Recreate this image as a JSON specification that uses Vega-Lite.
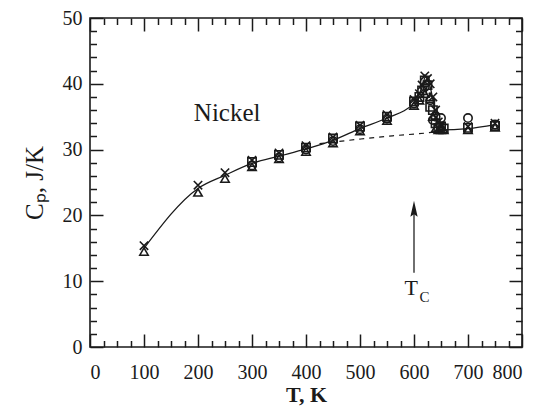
{
  "$schema": "https://vega.github.io/schema/vega-lite/v6.json",
  "autosize": "none",
  "width": 432,
  "height": 329,
  "padding": {"left": 90, "top": 18, "right": 19, "bottom": 62},
  "background": "white",
  "config": {
    "view": {"stroke": "#1a1a1a", "strokeWidth": 1.6},
    "font": "Liberation Serif",
    "axis": {"grid": false, "domain": false, "tickColor": "#1a1a1a", "tickWidth": 1.5, "labelFont": "Liberation Serif", "labelFontSize": 20, "labelColor": "#1a1a1a", "titleFont": "Liberation Serif", "titleColor": "#1a1a1a"}
  },
  "datasets": {
    "pts": [
      {"T": 100, "Cp": 14.5, "s": "triangle"}, {"T": 100, "Cp": 15.4, "s": "x"},
      {"T": 200, "Cp": 23.5, "s": "triangle"}, {"T": 200, "Cp": 24.6, "s": "x"},
      {"T": 250, "Cp": 25.6, "s": "triangle"}, {"T": 250, "Cp": 26.5, "s": "x"},
      {"T": 300, "Cp": 27.4, "s": "triangle"}, {"T": 300, "Cp": 28.4, "s": "x"}, {"T": 300, "Cp": 27.6, "s": "circle"}, {"T": 300, "Cp": 28.1, "s": "square"},
      {"T": 350, "Cp": 28.6, "s": "triangle"}, {"T": 350, "Cp": 29.5, "s": "x"}, {"T": 350, "Cp": 28.8, "s": "circle"}, {"T": 350, "Cp": 29.2, "s": "square"},
      {"T": 400, "Cp": 29.7, "s": "triangle"}, {"T": 400, "Cp": 30.6, "s": "x"}, {"T": 400, "Cp": 30.0, "s": "circle"}, {"T": 400, "Cp": 30.3, "s": "square"},
      {"T": 450, "Cp": 31.0, "s": "triangle"}, {"T": 450, "Cp": 31.9, "s": "x"}, {"T": 450, "Cp": 31.3, "s": "circle"}, {"T": 450, "Cp": 31.7, "s": "square"},
      {"T": 500, "Cp": 32.8, "s": "triangle"}, {"T": 500, "Cp": 33.7, "s": "x"}, {"T": 500, "Cp": 33.1, "s": "circle"}, {"T": 500, "Cp": 33.5, "s": "square"},
      {"T": 550, "Cp": 34.4, "s": "triangle"}, {"T": 550, "Cp": 35.3, "s": "x"}, {"T": 550, "Cp": 34.7, "s": "circle"}, {"T": 550, "Cp": 35.0, "s": "square"},
      {"T": 600, "Cp": 36.7, "s": "triangle"}, {"T": 600, "Cp": 37.6, "s": "x"}, {"T": 600, "Cp": 37.0, "s": "circle"}, {"T": 600, "Cp": 37.3, "s": "square"},
      {"T": 610, "Cp": 37.5, "s": "triangle"}, {"T": 610, "Cp": 38.5, "s": "x"}, {"T": 610, "Cp": 38.0, "s": "square"},
      {"T": 615, "Cp": 39.8, "s": "x"}, {"T": 615, "Cp": 39.0, "s": "square"},
      {"T": 620, "Cp": 38.5, "s": "triangle"}, {"T": 620, "Cp": 41.2, "s": "x"}, {"T": 620, "Cp": 39.5, "s": "circle"}, {"T": 620, "Cp": 40.5, "s": "square"},
      {"T": 625, "Cp": 40.8, "s": "x"}, {"T": 625, "Cp": 39.8, "s": "square"},
      {"T": 630, "Cp": 38.0, "s": "triangle"}, {"T": 630, "Cp": 40.0, "s": "x"}, {"T": 630, "Cp": 37.5, "s": "circle"}, {"T": 630, "Cp": 36.5, "s": "square"},
      {"T": 635, "Cp": 35.0, "s": "triangle"}, {"T": 635, "Cp": 38.0, "s": "x"}, {"T": 635, "Cp": 34.5, "s": "circle"}, {"T": 635, "Cp": 36.0, "s": "square"},
      {"T": 640, "Cp": 33.2, "s": "triangle"}, {"T": 640, "Cp": 36.0, "s": "x"}, {"T": 640, "Cp": 35.0, "s": "circle"}, {"T": 640, "Cp": 34.0, "s": "square"},
      {"T": 645, "Cp": 33.0, "s": "triangle"}, {"T": 645, "Cp": 34.2, "s": "x"}, {"T": 645, "Cp": 33.3, "s": "square"},
      {"T": 650, "Cp": 33.0, "s": "triangle"}, {"T": 650, "Cp": 33.6, "s": "x"}, {"T": 650, "Cp": 34.8, "s": "circle"}, {"T": 650, "Cp": 33.5, "s": "square"},
      {"T": 655, "Cp": 33.0, "s": "triangle"}, {"T": 655, "Cp": 33.2, "s": "square"},
      {"T": 700, "Cp": 33.0, "s": "triangle"}, {"T": 700, "Cp": 33.5, "s": "x"}, {"T": 700, "Cp": 34.8, "s": "circle"}, {"T": 700, "Cp": 33.3, "s": "square"},
      {"T": 750, "Cp": 33.4, "s": "triangle"}, {"T": 750, "Cp": 34.0, "s": "x"}, {"T": 750, "Cp": 33.8, "s": "circle"}, {"T": 750, "Cp": 33.6, "s": "square"}
    ],
    "curve": [
      {"T": 100, "Cp": 15.0}, {"T": 200, "Cp": 24.1}, {"T": 250, "Cp": 26.1}, {"T": 300, "Cp": 27.9},
      {"T": 350, "Cp": 29.0}, {"T": 400, "Cp": 30.1}, {"T": 450, "Cp": 31.4}, {"T": 500, "Cp": 33.2},
      {"T": 550, "Cp": 34.8}, {"T": 600, "Cp": 37.1}, {"T": 615, "Cp": 39.5}, {"T": 622, "Cp": 41.2},
      {"T": 630, "Cp": 39.5}, {"T": 640, "Cp": 35.5}, {"T": 648, "Cp": 33.0}, {"T": 700, "Cp": 33.2},
      {"T": 750, "Cp": 33.8}
    ],
    "dash": [
      {"T": 425, "Cp": 30.9}, {"T": 500, "Cp": 31.6}, {"T": 560, "Cp": 32.1}, {"T": 620, "Cp": 32.5}, {"T": 650, "Cp": 32.8}
    ],
    "arrow": [
      {"T": 600, "y1": 11.3, "y2": 20.5}
    ],
    "head": [
      {"T": 600, "Cp": 20.9}
    ]
  },
  "layer": [
    {
      "data": {"name": "curve"},
      "mark": {"type": "line", "interpolate": "monotone", "color": "#1a1a1a", "strokeWidth": 1.3},
      "encoding": {
        "x": {"field": "T", "type": "quantitative", "scale": {"domain": [0, 800], "nice": false},
              "axis": {"orient": "bottom", "values": [0, 100, 200, 300, 400, 500, 600, 700, 800], "tickSize": -13, "labelPadding": 28, "title": "T, K", "titleFontSize": 22, "titleFontWeight": "bold", "titlePadding": 2}},
        "y": {"field": "Cp", "type": "quantitative", "scale": {"domain": [0, 50], "nice": false},
              "axis": {"orient": "left", "values": [0, 10, 20, 30, 40, 50], "tickSize": -13, "labelPadding": 21, "title": "Cₚ, J/K", "titleFontSize": 25, "titleFontWeight": "normal", "titlePadding": 15}}
      }
    },
    {
      "data": {"name": "dash"},
      "mark": {"type": "line", "interpolate": "monotone", "color": "#1a1a1a", "strokeWidth": 1.2, "strokeDash": [5, 5]},
      "encoding": {
        "x": {"field": "T", "type": "quantitative", "scale": {"domain": [0, 800], "nice": false},
              "axis": {"orient": "top", "values": [0, 100, 200, 300, 400, 500, 600, 700, 800], "tickSize": -13, "labels": false, "title": null}},
        "y": {"field": "Cp", "type": "quantitative", "scale": {"domain": [0, 50], "nice": false},
              "axis": {"orient": "right", "values": [0, 10, 20, 30, 40, 50], "tickSize": -13, "labels": false, "title": null}}
      }
    },
    {
      "data": {"name": "pts"},
      "mark": {"type": "point", "filled": false, "color": "#1a1a1a", "strokeWidth": 1.6, "size": 70, "opacity": 1},
      "encoding": {
        "x": {"field": "T", "type": "quantitative", "scale": {"domain": [0, 800], "nice": false},
              "axis": {"orient": "bottom", "values": [25, 50, 75, 125, 150, 175, 225, 250, 275, 325, 350, 375, 425, 450, 475, 525, 550, 575, 625, 650, 675, 725, 750, 775], "tickSize": -6.5, "labels": false, "title": null}},
        "y": {"field": "Cp", "type": "quantitative", "scale": {"domain": [0, 50], "nice": false},
              "axis": {"orient": "left", "values": [2, 4, 6, 8, 12, 14, 16, 18, 22, 24, 26, 28, 32, 34, 36, 38, 42, 44, 46, 48], "tickSize": -6.5, "labels": false, "title": null}},
        "shape": {"field": "s", "type": "nominal", "legend": null,
                  "scale": {"domain": ["triangle", "x", "circle", "square"], "range": ["triangle-up", "M-1,-1L1,1M-1,1L1,-1", "circle", "square"]}}
      }
    },
    {
      "data": {"name": "arrow"},
      "mark": {"type": "rule", "color": "#333333", "strokeWidth": 1.4},
      "encoding": {
        "x": {"field": "T", "type": "quantitative", "scale": {"domain": [0, 800], "nice": false},
              "axis": {"orient": "top", "values": [25, 50, 75, 125, 150, 175, 225, 250, 275, 325, 350, 375, 425, 450, 475, 525, 550, 575, 625, 650, 675, 725, 750, 775], "tickSize": -6.5, "labels": false, "title": null}},
        "y": {"field": "y1", "type": "quantitative", "scale": {"domain": [0, 50], "nice": false},
              "axis": {"orient": "right", "values": [2, 4, 6, 8, 12, 14, 16, 18, 22, 24, 26, 28, 32, 34, 36, 38, 42, 44, 46, 48], "tickSize": -6.5, "labels": false, "title": null}},
        "y2": {"field": "y2"}
      }
    },
    {
      "data": {"name": "head"},
      "mark": {"type": "point", "filled": true, "color": "#1a1a1a", "opacity": 1, "size": 300, "shape": "M0,-1L-0.42,0.85L0,0.55L0.42,0.85Z"},
      "encoding": {
        "x": {"field": "T", "type": "quantitative", "scale": {"domain": [0, 800], "nice": false}, "axis": null},
        "y": {"field": "Cp", "type": "quantitative", "scale": {"domain": [0, 50], "nice": false}, "axis": null}
      }
    },
    {
      "data": {"values": [{"T": 254, "Cp": 35.5, "label": "Nickel"}]},
      "mark": {"type": "text", "font": "Liberation Serif", "fontSize": 25, "color": "#1a1a1a", "baseline": "middle", "align": "center"},
      "encoding": {
        "x": {"field": "T", "type": "quantitative", "scale": {"domain": [0, 800], "nice": false}, "axis": null},
        "y": {"field": "Cp", "type": "quantitative", "scale": {"domain": [0, 50], "nice": false}, "axis": null},
        "text": {"field": "label"}
      }
    },
    {
      "data": {"values": [{"T": 595, "Cp": 7.9, "label": "T"}]},
      "mark": {"type": "text", "font": "Liberation Serif", "fontSize": 22, "color": "#1a1a1a", "baseline": "alphabetic", "align": "center"},
      "encoding": {
        "x": {"field": "T", "type": "quantitative", "scale": {"domain": [0, 800], "nice": false}, "axis": null},
        "y": {"field": "Cp", "type": "quantitative", "scale": {"domain": [0, 50], "nice": false}, "axis": null},
        "text": {"field": "label"}
      }
    },
    {
      "data": {"values": [{"T": 610, "Cp": 6.8, "label": "C"}]},
      "mark": {"type": "text", "font": "Liberation Serif", "fontSize": 15, "color": "#1a1a1a", "baseline": "alphabetic", "align": "left"},
      "encoding": {
        "x": {"field": "T", "type": "quantitative", "scale": {"domain": [0, 800], "nice": false}, "axis": null},
        "y": {"field": "Cp", "type": "quantitative", "scale": {"domain": [0, 50], "nice": false}, "axis": null},
        "text": {"field": "label"}
      }
    }
  ],
  "resolve": {"axis": {"x": "independent", "y": "independent"}}
}
